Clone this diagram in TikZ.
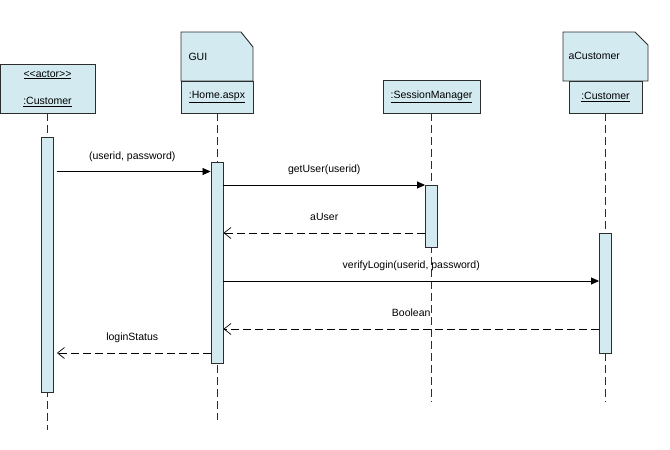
\documentclass[tikz,border=0pt]{standalone}
\usepackage{fontspec}
\setmainfont{Liberation Sans}
\usetikzlibrary{positioning,arrows.meta}
\definecolor{umlblue}{RGB}{210,234,240}
\definecolor{umlline}{RGB}{45,45,45}

\begin{document}
\begin{tikzpicture}
  [x=1pt,y=-1pt,font=\fontsize{10.5}{12.6}\selectfont,
   headbox/.style={rectangle,draw=umlline,fill=umlblue,line width=0.9pt,
inner sep=0pt,align=center},
   note/.style={draw=umlline,fill=umlblue,line width=0.9pt},
   activation/.style={rectangle,draw=umlline,fill=umlblue,line width=0.9pt,
inner sep=0pt,minimum width=12pt},
   lifeline/.style={draw=umlline,line width=0.8pt,dash pattern=on 8pt off 4pt},
   call/.style={draw=black,line width=0.7pt,-{Triangle[length=8pt,width=7pt]}},
   reply/.style={draw=black,line width=0.7pt,dash pattern=on 8pt off 4pt,
-{Straight Barb[length=7pt,width=11pt]}},
   msg/.style={above=7.5pt,inner sep=2pt,text height=8pt,text depth=2.5pt}]
  \useasboundingbox (0,0) rectangle (670,450);

  % heads
  \node[headbox,minimum width=95pt,minimum height=49pt] (actor) at (47.5,88.5)
    {\underline{<\kern0pt<actor>\kern0pt>}\\[15pt]\underline{:Customer}};
  \path[note] (181,32) -- (241,32) -- (253,47) -- (253,81) -- (181,81) -- cycle;
  \node[anchor=west] (guiname) at (185,57) {GUI};
  \node[headbox,minimum width=72pt,minimum height=32pt] (home) at (217,97)
    {\underline{:Home.aspx}};
  \node[headbox,minimum width=97pt,minimum height=33pt] (session) at (431.5,96.5)
    {\underline{:SessionManager}};
  \path[note] (563,32) -- (635,32) -- (648,45) -- (648,81) -- (563,81) -- cycle;
  \node[anchor=west] (acname) at (565,56) {aCustomer};
  \node[headbox,minimum width=73pt,minimum height=32pt] (acust) at (605.5,97)
    {\underline{:Customer}};

  % lifelines
  \coordinate (actorend) at (47.5,430);
  \coordinate (homeend) at (217,420);
  \coordinate (sessionend) at (431.5,402);
  \coordinate (acustend) at (605.5,402);
  \draw[lifeline] (actor) -- (actorend);
  \draw[lifeline] (home) -- (homeend);
  \draw[lifeline] (session) -- (sessionend);
  \draw[lifeline] (acust) -- (acustend);

  % activations
  \node[activation,minimum height=255pt] (actoract) at (47.5,264.5) {};
  \node[activation,minimum height=201pt] (homeact) at (217,262.5) {};
  \node[activation,minimum height=62pt] (sessionact) at (431.5,216) {};
  \node[activation,minimum height=120pt] (acustact) at (605.5,293) {};

  % messages
  \draw[call,shorten <=3pt] (actoract.east |- 0,171.5) --
    node[msg] (m1) {(userid, password)} (homeact.west |- 0,171.5);
  \draw[call] (homeact.east |- 0,185) --
    node[msg] (m2) {getUser(userid)} (sessionact.west |- 0,185);
  \draw[reply] (sessionact.west |- 0,233) --
    node[msg] (m3) {aUser} (homeact.east |- 0,233);
  \draw[call] (homeact.east |- 0,281) --
    node[msg] (m4) {verifyLogin(userid, password)} (acustact.west |- 0,281);
  \draw[reply] (acustact.west |- 0,329) --
    node[msg] (m5) {Boolean} (homeact.east |- 0,329);
  \draw[reply,shorten >=3pt] (homeact.west |- 0,353) --
    node[msg] (m6) {loginStatus} (actoract.east |- 0,353);
\end{tikzpicture}
\end{document}
